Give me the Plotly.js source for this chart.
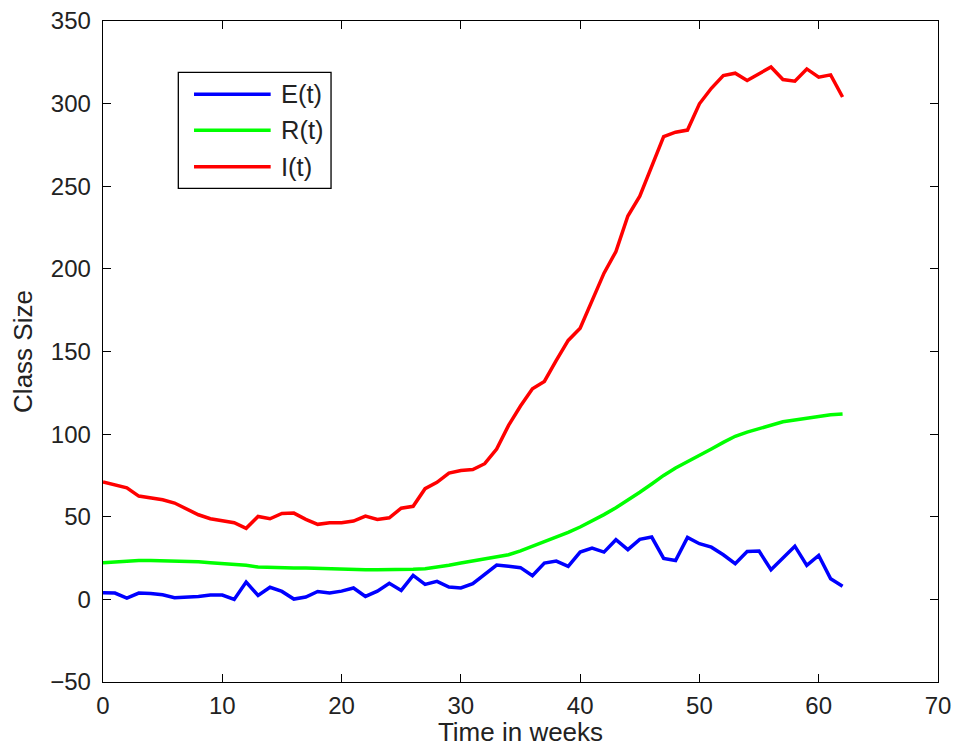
<!DOCTYPE html>
<html>
<head>
<meta charset="utf-8">
<script src="https://cdn.plot.ly/plotly-3.0.1.min.js"></script>
<style>html,body{margin:0;padding:0;background:#fff;}#chart{width:969px;height:747px;}</style>
</head>
<body>
<div id="chart"></div>
<script>
const weeks = Array.from({length: 63}, (_, i) => i);
const seriesNames = ["E(t)", "R(t)", "I(t)"];
const E_values = [4, 3.8, 0.8, 3.8, 3.6, 2.8, 1, 1.2, 1.8, 2.6, 2.6, 0, 10.5, 2.4, 7.3, 4.8, 0.2, 1.4, 4.8, 3.8,
  5, 6.9, 1.8, 5, 9.7, 5.4, 14.5, 9.1, 10.9, 7.5, 6.9, 9.5, 15.1, 20.8, 20, 19.2, 14.3, 22, 23.2, 20,
  28.6, 31, 28.6, 36.1, 30.1, 36.3, 37.7, 24.8, 23.5, 37.5, 33.7, 31.6, 27, 21.6, 29, 29.2, 18, 25.2, 32.2, 20.6,
  26.6, 12.5, 7.9];
const R_values = [22.2, 22.8, 23.2, 23.6, 23.5, 23.4, 23.2, 23, 22.7, 22.2, 21.7, 21.2, 20.6, 19.6, 19.3, 19.1, 19, 19, 18.7, 18.4,
  18.2, 18, 18, 17.9, 17.9, 18, 18.2, 18.6, 19.4, 20.6, 22, 23.2, 24.4, 25.6, 27, 29.3, 32, 34.6, 37.4, 40.5,
  43.8, 47.4, 51.3, 55.5, 60, 64.8, 69.8, 75, 79.5, 83.2, 87, 91, 95, 98.7, 101.2, 103.3, 105.4, 107.5, 108.6, 109.7,
  110.9, 111.7, 112.2];
const I_values = [71, 69.5, 67.5, 62.5, 61.5, 60.3, 58.3, 54.6, 51.2, 48.8, 47.8, 46.4, 43, 50.2, 48.8, 52, 52.2, 48.4, 45.4, 46.4,
  46.4, 47.4, 50.4, 48.4, 49.4, 55.2, 56.3, 67, 70.8, 76.4, 78, 78.6, 82.1, 91, 105.3, 117, 127.4, 131.9, 144.6, 156.7,
  164.1, 180.9, 197.4, 210.5, 232, 244, 262.5, 280, 282.7, 284, 299.9, 309.3, 317, 318.4, 314, 318, 322.2, 314.6, 313.6, 321,
  316, 317.4, 304];
const xTicks = [0, 10, 20, 30, 40, 50, 60, 70];
const yTicks = [-50, 0, 50, 100, 150, 200, 250, 300, 350];
const xLabel = "Time in weeks";
const yLabel = "Class Size";

const colors = ["#0000ff", "#00ff00", "#ff0000"];
const allValues = [E_values, R_values, I_values];
const FONT = "Liberation Sans, Arial, Helvetica, sans-serif";

const traces = allValues.map((vals, k) => ({
  type: "scatter", mode: "lines", name: seriesNames[k],
  x: weeks, y: vals,
  line: {color: colors[k], width: 3.5},
  showlegend: false, hoverinfo: "skip"
}));

// custom legend (MATLAB style) in paper coordinates
const legendYs = [0.8891, 0.8346, 0.7796];
const shapes = [{
  type: "rect", xref: "paper", yref: "paper",
  x0: 0.0902, x1: 0.2731, y0: 0.7469, y1: 0.9224,
  line: {color: "#000", width: 1.3}, fillcolor: "#fff", layer: "above"
}];
const annotations = [];
seriesNames.forEach((nm, k) => {
  shapes.push({
    type: "line", xref: "paper", yref: "paper",
    x0: 0.1090, x1: 0.2008, y0: legendYs[k], y1: legendYs[k],
    line: {color: colors[k], width: 3.5}, layer: "above"
  });
  annotations.push({
    xref: "paper", yref: "paper", x: 0.2110, y: legendYs[k],
    xanchor: "left", yanchor: "middle", text: nm, showarrow: false,
    font: {family: FONT, size: 25.5, color: "#222"}
  });
});

const layout = {
  width: 969, height: 747,
  margin: {l: 103, r: 31, t: 21, b: 65, pad: 0},
  paper_bgcolor: "#fff", plot_bgcolor: "#fff",
  font: {family: FONT, size: 24, color: "#222"},
  xaxis: {
    range: [0, 70], tickvals: xTicks, ticktext: xTicks.map(String),
    showgrid: false, zeroline: false,
    showline: true, linecolor: "#000", linewidth: 1.3, mirror: "allticks",
    ticks: "inside", ticklen: 8, tickwidth: 1, tickcolor: "#000",
    tickfont: {family: FONT, size: 24, color: "#222"},
    ticklabelstandoff: 2,
    title: {text: xLabel, font: {family: FONT, size: 26, color: "#222"}, standoff: 2}
  },
  yaxis: {
    range: [-50, 350], tickvals: yTicks, ticktext: yTicks.map(v => v < 0 ? "\u2212" + Math.abs(v) : String(v)),
    showgrid: false, zeroline: false,
    showline: true, linecolor: "#000", linewidth: 1.3, mirror: "allticks",
    ticks: "inside", ticklen: 8, tickwidth: 1, tickcolor: "#000",
    tickfont: {family: FONT, size: 24, color: "#222"},
    ticklabelstandoff: 6,
    title: {text: yLabel, font: {family: FONT, size: 26, color: "#222"}, standoff: 10}
  },
  shapes: shapes,
  annotations: annotations,
  showlegend: false
};

Plotly.newPlot("chart", traces, layout, {displayModeBar: false, staticPlot: true});
</script>
</body>
</html>
